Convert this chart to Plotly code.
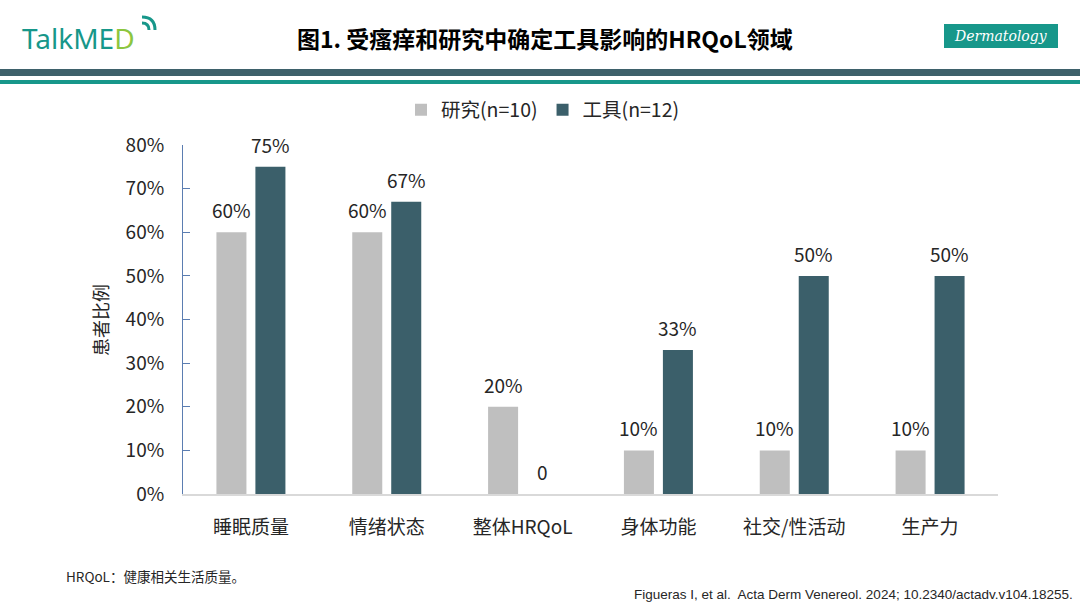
import plotly.graph_objects as go

categories = ["睡眠质量", "情绪状态", "整体HRQoL", "身体功能", "社交/性活动", "生产力"]
study_values = [0.60, 0.60, 0.20, 0.10, 0.10, 0.10]
tool_values = [0.75, 0.67, 0.0, 0.33, 0.50, 0.50]
series_names = ["研究(n=10)", "工具(n=12)"]
tick_vals = [0, 0.1, 0.2, 0.3, 0.4, 0.5, 0.6, 0.7, 0.8]
tick_text = ["0%", "10%", "20%", "30%", "40%", "50%", "60%", "70%", "80%"]

GRAY = "#BFBFBF"
DARK = "#3B5F6A"
TEAL = "#17978A"
FONT = "Noto Sans CJK SC"
TXT = "#262626"

W, H = 1080, 608
L, R, T, B = 183, 998, 145, 494


def px(x):
    return (x - L) / (R - L)


def py(y):
    return (B - y) / (B - T)


def lab(v):
    return f"{round(v * 100)}%" if v > 0 else "0"


fig = go.Figure()
fig.add_trace(go.Bar(x=categories, y=study_values, name=series_names[0],
                     marker=dict(color=GRAY, line=dict(width=0))))
fig.add_trace(go.Bar(x=categories, y=tool_values, name=series_names[1],
                     marker=dict(color=DARK, line=dict(width=0))))

annotations = []
for cat, sv, tv in zip(categories, study_values, tool_values):
    for v, shift in ((sv, -19.5), (tv, 19.5)):
        annotations.append(dict(x=cat, y=v, xref="x", yref="y", text=lab(v),
                                showarrow=False, xshift=shift, yshift=7,
                                yanchor="bottom", xanchor="center",
                                font=dict(family=FONT, size=19, color=TXT)))


def pa(x, y, text, font, xanchor="center", yanchor="middle", **kw):
    d = dict(x=px(x), y=py(y), xref="paper", yref="paper", text=text,
             showarrow=False, font=font, xanchor=xanchor, yanchor=yanchor)
    d.update(kw)
    return d


annotations += [
    pa(545, 38, "<b>图1. 受瘙痒和研究中确定工具影响的HRQoL领域</b>",
       dict(family=FONT, size=23, color="#000")),
    pa(1001, 36, "Dermatology",
       dict(family="DejaVu Serif", size=14, color="white", style="italic")),
    pa(20, 38, "<span style='color:#17978A'>TalkME</span><span style='color:#8CC63F'>D</span>",
       dict(family="Noto Sans", size=28), xanchor="left"),
    pa(100, 320, "患者比例", dict(family=FONT, size=18, color=TXT), textangle=-90),
    pa(64, 576, "HRQoL：健康相关生活质量。", dict(family=FONT, size=13.5, color=TXT), xanchor="left"),
    pa(1075, 594, "Figueras I, et al.  Acta Derm Venereol. 2024; 10.2340/actadv.v104.18255.",
       dict(family="Liberation Sans", size=13.5, color=TXT), xanchor="right"),
]


def rect(x0, y0, x1, y1, color):
    return dict(type="rect", xref="paper", yref="paper", x0=px(x0), x1=px(x1),
                y0=py(y1), y1=py(y0), fillcolor=color, line=dict(width=0), layer="below")


shapes = [
    rect(0, 69, W, 76, "#3E616B"),
    rect(0, 80, W, 84, TEAL),
    rect(944, 24, 1058, 48, TEAL),
]
# logo wifi arcs
cx, cy = 142, 30
for r in (7, 13):
    shapes.append(dict(type="path", xref="paper", yref="paper",
                       path=f"M {px(cx)} {py(cy - r)} Q {px(cx + r)} {py(cy - r)} {px(cx + r)} {py(cy)}",
                       line=dict(color=TEAL, width=3)))

fig.update_layout(
    width=W, height=H,
    margin=dict(l=L, r=W - R, t=T, b=H - B, autoexpand=False),
    paper_bgcolor="white", plot_bgcolor="white",
    barmode="group", bargap=0.426, bargroupgap=0.23,
    font=dict(family=FONT, size=19, color=TXT),
    legend=dict(orientation="h", x=px(543), xanchor="center", y=py(110), yanchor="middle",
                font=dict(family=FONT, size=19.5, color=TXT), traceorder="normal",
                itemwidth=30),
    showlegend=True,
    annotations=annotations,
    shapes=shapes,
)
fig.update_yaxes(range=[0, 0.8], tickvals=tick_vals, ticktext=tick_text,
                 showgrid=False, zeroline=False, showline=True, linecolor="#5B7DB1", linewidth=1,
                 ticks="inside", ticklen=7, tickcolor="#5B7DB1", ticklabelstandoff=14,
                 tickfont=dict(family=FONT, size=19, color=TXT))
fig.update_xaxes(showline=True, linecolor="#D9D9D9", linewidth=1.5, ticks="",
                 tickfont=dict(family=FONT, size=19, color=TXT), ticklabelstandoff=15)

fig.write_html("out.html", config={"displayModeBar": False},
               post_script="document.body.style.margin='0';")
